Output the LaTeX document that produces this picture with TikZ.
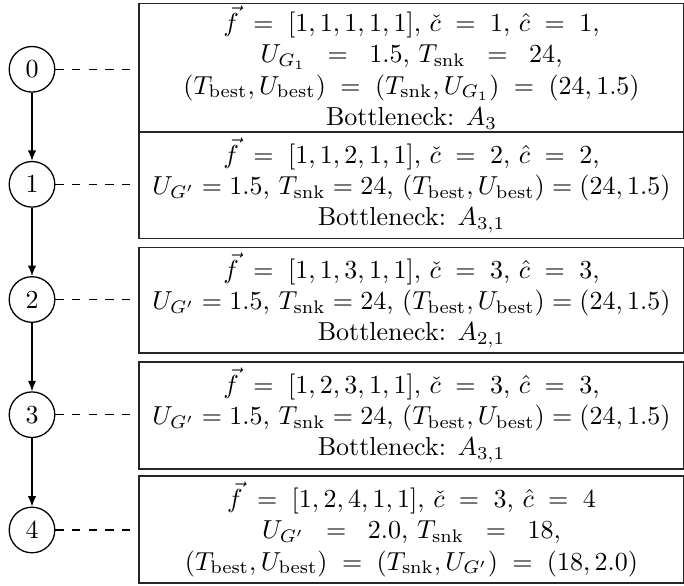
\documentclass[tikz,border=0pt]{standalone}
\usetikzlibrary{arrows.meta}
\newlength\pxu
\setlength\pxu{0.3846pt}
\begin{document}
\begin{tikzpicture}[x=0.3846pt,y=-0.3846pt,
  state/.style={circle, draw, line width=0.5pt, minimum size=45.6\pxu, inner sep=0pt},
  infobox/.style={draw=black!85, line width=0.65pt, minimum width=544.7\pxu, align=center, inner sep=0pt, anchor=north west},
  flow/.style={line width=0.5pt, -{Latex[length=4pt,width=3.2pt]}},
  link/.style={line width=0.6pt, dash pattern=on 3.2pt off 3.2pt}]
\useasboundingbox (0,0) rectangle (684,585);
\node[state] (n0) at (32,69.3) {0};
\node[state] (n1) at (32,184.3) {1};
\node[state] (n2) at (32,299.5) {2};
\node[state] (n3) at (32,414.7) {3};
\node[state] (n4) at (32,530) {4};
\node[infobox, minimum height=128.3\pxu] (b0) at (138.3,2.7) {%
$\vec{f} \;=\; [1,1,1,1,1]$, $\check{c} \;=\; 1$, $\hat{c} \;=\; 1$,\\
$U_{G_1} \;\;=\;\; 1.5$, $T_{\mathrm{snk}} \;\;=\;\; 24$,\\
$(T_{\mathrm{best}}, U_{\mathrm{best}}) \;=\; (T_{\mathrm{snk}}, U_{G_1}) \;=\; (24, 1.5)$\\
Bottleneck: $A_3$};
\node[infobox, minimum height=106.7\pxu] (b1) at (138.3,131) {%
$\vec{f} \;=\; [1,1,2,1,1]$, $\check{c} \;=\; 2$, $\hat{c} \;=\; 2$,\\
$U_{G'} = 1.5$, $T_{\mathrm{snk}} = 24$, $(T_{\mathrm{best}}, U_{\mathrm{best}}) = (24, 1.5)$\\
Bottleneck: $A_{3,1}$};
\node[infobox, minimum height=105.6\pxu] (b2) at (138.3,246.7) {%
$\vec{f} \;=\; [1,1,3,1,1]$, $\check{c} \;=\; 3$, $\hat{c} \;=\; 3$,\\
$U_{G'} = 1.5$, $T_{\mathrm{snk}} = 24$, $(T_{\mathrm{best}}, U_{\mathrm{best}}) = (24, 1.5)$\\
Bottleneck: $A_{2,1}$};
\node[infobox, minimum height=106.7\pxu] (b3) at (138.3,361.3) {%
$\vec{f} \;=\; [1,2,3,1,1]$, $\check{c} \;=\; 3$, $\hat{c} \;=\; 3$,\\
$U_{G'} = 1.5$, $T_{\mathrm{snk}} = 24$, $(T_{\mathrm{best}}, U_{\mathrm{best}}) = (24, 1.5)$\\
Bottleneck: $A_{3,1}$};
\node[infobox, minimum height=107\pxu] (b4) at (138.3,475) {%
$\vec{f} \;=\; [1,2,4,1,1]$, $\check{c} \;=\; 3$, $\hat{c} \;=\; 4$\\
$U_{G'} \;\;=\;\; 2.0$, $T_{\mathrm{snk}} \;\;=\;\; 18$,\\
$(T_{\mathrm{best}}, U_{\mathrm{best}}) \;=\; (T_{\mathrm{snk}}, U_{G'}) \;=\; (18, 2.0)$};
\draw[flow] (n0) -- (n1);
\draw[flow] (n1) -- (n2);
\draw[flow] (n2) -- (n3);
\draw[flow] (n3) -- (n4);
\draw[link] (n0.east) -- (n0.east -| b0.west);
\draw[link] (n1.east) -- (n1.east -| b1.west);
\draw[link] (n2.east) -- (n2.east -| b2.west);
\draw[link] (n3.east) -- (n3.east -| b3.west);
\draw[link] (n4.east) -- (n4.east -| b4.west);
\end{tikzpicture}
\end{document}
